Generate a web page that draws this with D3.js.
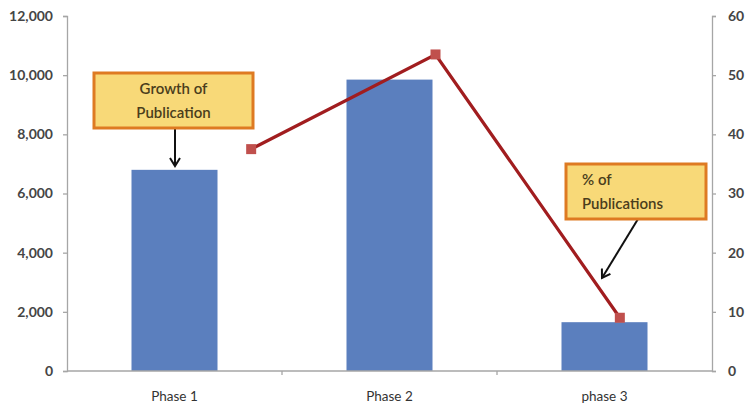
<!DOCTYPE html>
<html>
<head>
<meta charset="utf-8">
<script src="https://cdn.jsdelivr.net/npm/d3@7/dist/d3.min.js"></script>
<style>
  html, body { margin: 0; padding: 0; background: #fff; }
  svg { display: block; }
  text { font-family: Lato, "Open Sans", sans-serif; }
</style>
</head>
<body>
<svg id="chart" width="746" height="409"></svg>
<script>
// Publication counts per phase (bars, left axis) and share of publications (line, right axis)
const categories = ["Phase 1", "Phase 2", "phase 3"];
const publications = [6800, 9850, 1650];
const percentShare = [37.5, 53.5, 9];
const leftTicks = [0, 2000, 4000, 6000, 8000, 10000, 12000];
const rightTicks = [0, 10, 20, 30, 40, 50, 60];

const W = 746, H = 409;
const plot = { left: 67, right: 712, top: 16, bottom: 371 };

const svg = d3.select("#chart");

const x = d3.scaleBand().domain(categories).range([plot.left, plot.right]);
// line series sits on its own category axis, which starts further right
const xLine = d3.scaleBand().domain(categories).range([159, plot.right]);
const yLeft = d3.scaleLinear().domain([0, 12000]).range([plot.bottom, plot.top]);
const yRight = d3.scaleLinear().domain([0, 60]).range([plot.bottom, plot.top]);

const axisColor = "#a6a6a6";
const labelColor = "#454545";

// bars
const barFrac = 0.4;
svg.append("g").selectAll("rect")
  .data(categories)
  .join("rect")
  .attr("x", (d) => x(d) + x.bandwidth() * (1 - barFrac) / 2)
  .attr("width", x.bandwidth() * barFrac)
  .attr("y", (d, i) => yLeft(publications[i]))
  .attr("height", (d, i) => yLeft(0) - yLeft(publications[i]))
  .attr("fill", "#5b7fbe");

// left axis
const gl = svg.append("g").attr("transform", `translate(${plot.left},0)`)
  .call(d3.axisLeft(yLeft).tickValues(leftTicks).tickSize(4).tickPadding(10)
    .tickFormat(d3.format(",")));
// right axis
const gr = svg.append("g").attr("transform", `translate(${plot.right},0)`)
  .call(d3.axisRight(yRight).tickValues(rightTicks).tickSize(4).tickPadding(12)
    .tickFormat(d3.format("d")));
// bottom axis: ticks between categories
const gb = svg.append("g").attr("transform", `translate(0,${plot.bottom})`)
  .call(d3.axisBottom(x).tickSize(0).tickPadding(20));
gb.selectAll(".tick").append("line")
  .attr("x1", x.step() / 2).attr("x2", x.step() / 2)
  .attr("y1", 0).attr("y2", 4)
  .filter((d, i) => i === categories.length - 1).remove();

[gl, gr, gb].forEach((g) => {
  g.select(".domain").attr("stroke", axisColor).attr("stroke-width", 1.3);
  g.selectAll(".tick line").attr("stroke", axisColor).attr("stroke-width", 1.3);
  g.selectAll(".tick text").attr("fill", labelColor)
    .style("font-size", "14px").style("font-weight", "bold")
    .style("font-family", "Lato, sans-serif");
});
gb.select(".domain").attr("d", `M${plot.left},0H${plot.right}`);
gb.selectAll(".tick text").style("font-size", "13.5px").style("font-weight", "normal")
  .attr("fill", "#333");

// percentage line
const line = d3.line()
  .x((d, i) => xLine(categories[i]) + xLine.bandwidth() / 2)
  .y((d) => yRight(d));
svg.append("path")
  .datum(percentShare)
  .attr("d", line)
  .attr("fill", "none")
  .attr("stroke", "#a11d1f")
  .attr("stroke-width", 3.2);
const ms = 10;
svg.append("g").selectAll("rect")
  .data(percentShare)
  .join("rect")
  .attr("x", (d, i) => xLine(categories[i]) + xLine.bandwidth() / 2 - ms / 2)
  .attr("y", (d) => yRight(d) - ms / 2)
  .attr("width", ms).attr("height", ms)
  .attr("fill", "#c0504d");

// arrowheads for callouts
svg.append("defs").append("marker")
  .attr("id", "chev")
  .attr("viewBox", "0 0 12 12")
  .attr("refX", 10).attr("refY", 6)
  .attr("markerWidth", 12).attr("markerHeight", 12)
  .attr("markerUnits", "userSpaceOnUse")
  .attr("orient", "auto")
  .append("path")
  .attr("d", "M2,1 L10,6 L2,11")
  .attr("fill", "none")
  .attr("stroke", "#111")
  .attr("stroke-width", 2);

// callout boxes
function callout(box, lines, anchor, arrow) {
  const g = svg.append("g");
  g.append("line")
    .attr("x1", arrow[0]).attr("y1", arrow[1])
    .attr("x2", arrow[2]).attr("y2", arrow[3])
    .attr("stroke", "#111").attr("stroke-width", 2)
    .attr("marker-end", "url(#chev)");
  g.append("rect")
    .attr("x", box.x).attr("y", box.y)
    .attr("width", box.w).attr("height", box.h)
    .attr("fill", "#f8d978")
    .attr("stroke", "#de7a22").attr("stroke-width", 3);
  lines.forEach((t, i) => {
    g.append("text")
      .attr("x", anchor === "middle" ? box.x + box.w / 2 : box.x + 16)
      .attr("y", box.y + 21 + i * 24)
      .attr("text-anchor", anchor)
      .attr("fill", "#4a3d1c")
      .style("font-size", "15px")
      .style("font-weight", "600")
      .text(t);
  });
}
callout({ x: 94, y: 73, w: 159, h: 55 }, ["Growth of", "Publication"], "middle",
  [175, 128, 175, 166]);
callout({ x: 566, y: 164, w: 140, h: 55 }, ["% of", "Publications"], "start",
  [638, 219, 602, 278]);
</script>
</body>
</html>
